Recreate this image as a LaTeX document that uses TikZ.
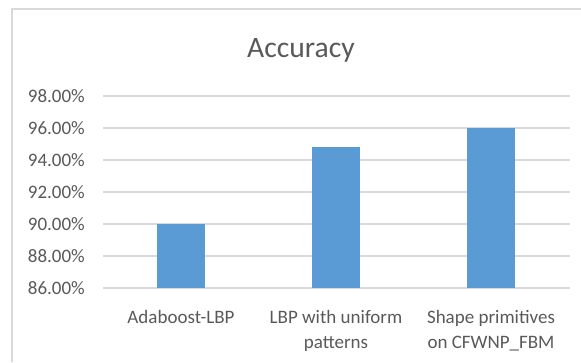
\documentclass[tikz,border=0pt]{standalone}
\usepackage{fontspec}
\setmainfont{Carlito}
\usepackage{tikz}
\usetikzlibrary{calc}
\usetikzlibrary{positioning}
\definecolor{barblue}{HTML}{5B9BD5}
\definecolor{gridgray}{HTML}{D9D9D9}
\definecolor{textgray}{HTML}{595959}
\tikzstyle{gridline} = [draw=gridgray, line width=1.2pt]
\tikzstyle{ticklabel} = [anchor=east, inner sep=0pt, text=textgray, font=\fontsize{19}{25}\selectfont]
\tikzstyle{catlabel} = [anchor=base, inner sep=0pt, align=center, text=textgray, font=\fontsize{19}{25}\selectfont]
\tikzstyle{bar} = [rectangle, fill=barblue, draw=none, anchor=south, minimum width=48.3pt, inner sep=0pt]

\begin{document}
\begin{tikzpicture}[x=1pt, y=-1pt]
\useasboundingbox (0,0) rectangle (581,362);
\draw [draw=gridgray, line width=2pt] (12,362) -- (12,9) -- (581,9);
\node [text=textgray, font=\fontsize{29.6}{34}\selectfont] (title) at (301,50) {Accuracy};
% value axis
\foreach \v in {86,88,...,98} {
  \pgfmathsetmacro{\yy}{288-(\v-86)*16}
  \draw [gridline] (103,\yy) -- (570,\yy);
  \node [ticklabel] (tick\v) at (85,\yy) {\v.00\%};
}
% bars
\foreach \x/\v/\n in {181/90/one, 336/94.8/two, 491/96/three} {
  \pgfmathsetmacro{\hh}{(\v-86)*16}
  \node [bar, minimum height=\hh pt] (bar\n) at (\x,288) {};
}
% category labels (base of the last line)
\node [catlabel] (catone) at (181,323) {Adaboost-LBP};
\node [catlabel] (cattwo) at (336,348) {LBP with uniform\\patterns};
\node [catlabel] (catthree) at (491,348) {Shape primitives\\on CFWNP\_FBM};
\end{tikzpicture}
\end{document}
